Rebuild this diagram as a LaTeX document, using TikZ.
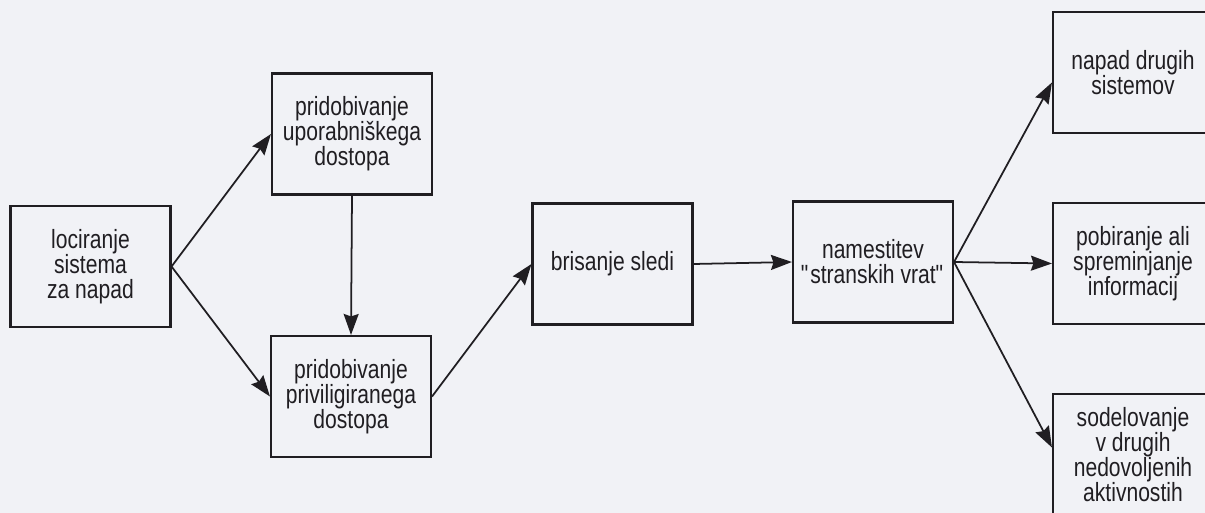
\documentclass[tikz,border=0pt]{standalone}
\usepackage{fontspec}
\setmainfont{Liberation Sans}[FakeStretch=0.8]
\usetikzlibrary{arrows.meta,positioning,calc}
\definecolor{paperbg}{RGB}{241,242,246}
\definecolor{inkgray}{RGB}{32,30,34}

\begin{document}
\begin{tikzpicture}[
    x=0.02cm, y=-0.02cm,
    stage/.style={draw=inkgray,line width=1.2pt,text=inkgray,font=\fontsize{15}{14.3}\selectfont,align=center,minimum width=3.2cm,minimum height=2.42cm,inner sep=0pt},
    flow/.style={-{Stealth[length=0.42cm,width=0.3cm,inset=0.05cm]},line width=1pt,draw=inkgray,fill=inkgray},
]

% Page
\useasboundingbox[fill=paperbg] (0,0) rectangle (1205,513);
\clip (0,0) rectangle (1205,513);

% Locating the target
\node[stage] (locate) at (90.5,266.5) {lociranje\\sistema\\za napad};

% User and privileged access
\node[stage] (useracc) at (352,134) {pridobivanje\\uporabniškega\\dostopa};
\node[stage] (privacc) at (351,396.5) {pridobivanje\\priviligiranega\\dostopa};

% Covering tracks
\node[stage] (wipe) at (612.5,264) {brisanje sledi};

% Back doors
\node[stage] (backdoor) at (873,262) {namestitev\\\textquotedbl stranskih vrat\textquotedbl};

% Outcomes
\node[stage] (attack) at (1133,72.5) {napad drugih\\sistemov};
\node[stage] (collect) at (1133,263.5) {pobiranje ali\\spreminjanje\\informacij};
\node[stage] (other) at (1133,454.5) {sodelovanje\\v drugih\\nedovoljenih\\aktivnostih};

% Connections
\draw[flow] (locate.east) -- (useracc.west);
\draw[flow] (locate.east) -- (privacc.west);
\draw[flow] (useracc.south) -- (privacc.north);
\draw[flow] (privacc.east) -- (wipe.west);
\draw[flow] (wipe.east) -- (backdoor.west);

\draw[flow] (backdoor.east) -- ([yshift=-0.2cm]attack.west);
\draw[flow] (backdoor.east) -- (collect.west);
\draw[flow] (backdoor.east) -- ([yshift=0.14cm]other.west);

\end{tikzpicture}
\end{document}
